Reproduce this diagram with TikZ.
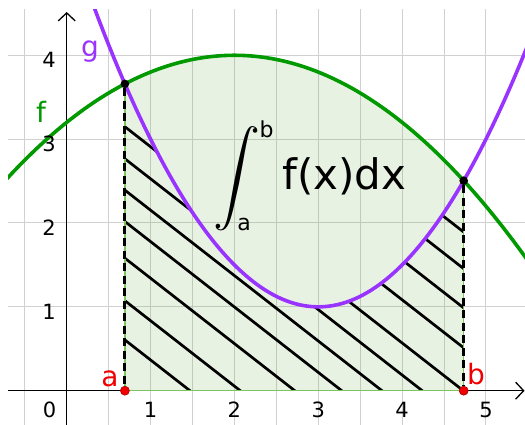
\documentclass[tikz,border=0pt]{standalone}
\usepackage{fontspec}
\setmainfont{DejaVu Sans}
\usepackage{graphicx}
\usetikzlibrary{arrows.meta}

\definecolor{fcol}{RGB}{0,153,0}
\definecolor{gcol}{RGB}{153,51,255}
\definecolor{gridcol}{RGB}{208,208,208}
\definecolor{areacol}{RGB}{100,170,60}
\definecolor{edgecol}{RGB}{125,195,95}
\definecolor{ptred}{RGB}{240,0,0}
\definecolor{ptredbd}{RGB}{170,0,0}

\begin{document}
\begin{tikzpicture}[x=83.85pt,y=83.85pt,
  declare function={ff(\x)=4-0.2*(\x-2)*(\x-2); gg(\x)=1+0.5*(\x-3)*(\x-3);},
  gridline/.style={draw=gridcol, line width=1pt},
  axisline/.style={draw=black, line width=1.3pt, -{Straight Barb[length=8pt,width=17pt,line width=1.3pt]}},
  curvef/.style={draw=fcol, line width=3.6pt},
  curveg/.style={draw=gcol, line width=3.6pt},
  hatchline/.style={draw=black, line width=2.7pt},
  edgeline/.style={draw=edgecol, line width=1.5pt},
  dashline/.style={draw=black, line width=3pt, dash pattern=on 8pt off 4.5pt},
  blackdot/.style={circle, fill=black, inner sep=0pt, minimum size=8.6pt},
  reddot/.style={circle, fill=ptred, draw=ptredbd, line width=0.6pt, inner sep=0pt, minimum size=9pt},
  ticklab/.style={anchor=base, inner sep=0pt, font=\fontsize{21}{21}\selectfont},
  curvelab/.style={anchor=base, inner sep=0pt, font=\fontsize{28}{28}\selectfont},
  limlab/.style={anchor=base, inner sep=0pt, font=\fontsize{22}{22}\selectfont}
]
\useasboundingbox (-0.7955,-0.4091) rectangle (5.4657,4.6595);

% grid
\begin{scope}
  \clip (-0.700,-0.4091) rectangle (5.4657,4.5403);
  \foreach \i in {-0.5,0.5,1.0,1.5,2.0,2.5,3.0,3.5,4.0,4.5,5.0}
    \draw[gridline] (\i,-0.5) -- (\i,4.6);
  \foreach \j in {1,2,3,4}
    \draw[gridline] (-0.8,\j) -- (5.5,\j);
\end{scope}

% area under f
\fill[areacol, fill opacity=0.15] (0.693981,0) -- plot[domain=0.693981:4.734591, samples=80] (\x,{ff(\x)}) -- (4.734591,0) -- cycle;

% hatching under g
\begin{scope}
  \clip (0.693981,0) -- plot[domain=0.693981:4.734591, samples=100] (\x,{gg(\x)}) -- (4.734591,0) -- cycle;
  \foreach \c in {1.47,2.07,2.72,3.28,3.76,4.24,4.73,5.39,6.0,6.6,7.16}
    \draw[hatchline] (\c+0.5,-0.39) -- (\c-7,5.46);
\end{scope}

% axes
\draw[axisline] (-0.700,0) -- (5.46,0);
\draw[axisline] (0,-0.41) -- (0,4.516);

% border of the area
\draw[edgeline] (0.693981,{ff(0.693981)}) -- (0.693981,0) -- (4.734591,0) -- (4.734591,{ff(4.734591)});

% curves
\begin{scope}
  \clip (-0.700,-0.4091) rectangle (5.4657,4.5403);
  \draw[curveg] plot[domain=0.2:5.6, samples=160] (\x,{gg(\x)});
  \draw[curvef] plot[domain=-0.8:5.6, samples=160] (\x,{ff(\x)});
\end{scope}

% points
\node[blackdot] (PA) at (0.693981,3.658863) {};
\node[blackdot] (PB) at (4.734591,2.504399) {};
\node[reddot] (A0) at (0.693981,0) {};
\node[reddot] (B0) at (4.734591,0) {};
\draw[dashline] (PA) -- (A0);
\draw[dashline] (PB) -- (B0);

% tick labels
\node[ticklab] (tx0) at (-0.205,-0.3256) {0};
\node[ticklab] (tx1) at (1,-0.3256) {1};
\node[ticklab] (tx2) at (2,-0.3256) {2};
\node[ticklab] (tx3) at (3,-0.3256) {3};
\node[ticklab] (tx4) at (4,-0.3256) {4};
\node[ticklab] (tx5) at (5,-0.3256) {5};
\node[ticklab] (ty1) at (-0.21,0.851) {1};
\node[ticklab] (ty2) at (-0.21,1.851) {2};
\node[ticklab] (ty3) at (-0.21,2.851) {3};
\node[ticklab] (ty4) at (-0.21,3.851) {4};

% curve and point labels
\node[curvelab, text=fcol] (flab) at (-0.3065,3.1926) {f};
\node[curvelab, text=gcol] (glab) at (0.2779,3.9797) {g};
\node[curvelab, text=ptred] (alab) at (0.5164,0.0441) {a};
\node[curvelab, text=ptred] (blab) at (4.881,0.068) {b};

% integral
\node[inner sep=0pt] (intsign) at (2.025,2.524) {\scalebox{4.7}{$\displaystyle\int$}};
\node[limlab] (upper) at (2.383,3.0137) {b};
\node[limlab] (lower) at (2.1145,1.9046) {a};
\node[anchor=base west, inner sep=0pt, font=\fontsize{42}{42}\selectfont] (integrand) at (2.568,2.3936) {f(x)dx};
\end{tikzpicture}
\end{document}
